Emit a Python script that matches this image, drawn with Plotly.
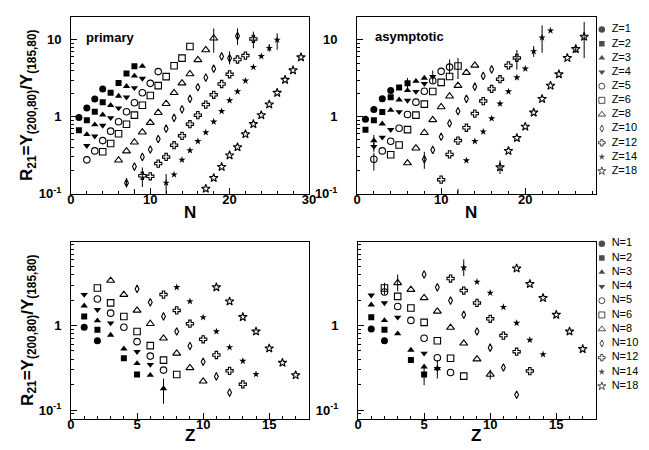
import plotly.graph_objects as go

# ---------------- data ----------------
Z_SERIES = [1, 2, 3, 4, 5, 6, 8, 10, 12, 14, 18]
N_SERIES = [1, 2, 3, 4, 5, 6, 8, 10, 12, 14, 18]

# top-left: primary, R21 vs N, one series per Z
prim_vs_N = {
    1: ([1, 2, 3, 4], [0.98, 1.30, 1.70, 2.30]),
    2: ([1, 2, 3, 4, 5, 6, 7, 8], [0.67, 0.90, 1.16, 1.55, 2.05, 2.75, 3.65, 4.55]),
    3: ([2, 3, 4, 5, 6, 7, 8, 9], [0.59, 0.79, 1.06, 1.41, 1.86, 2.49, 3.40, 4.55]),
    4: ([2, 3, 4, 5, 6, 7, 8, 9], [0.42, 0.56, 0.77, 0.97, 1.30, 1.80, 2.38, 3.15]),
    5: ([2, 3, 4, 5, 6, 7, 8, 9, 10, 11], [0.275, 0.36, 0.49, 0.65, 0.86, 1.16, 1.52, 2.05, 2.72, 3.87]),
    6: ([4, 5, 6, 7, 8, 9, 10, 11, 12, 13, 14, 15], [0.35, 0.45, 0.60, 0.80, 1.05, 1.41, 1.89, 2.54, 3.33, 4.6, 5.8, 8.2]),
    8: ([6, 7, 8, 9, 10, 11, 12, 13, 14, 15, 16, 17, 18], [0.272, 0.357, 0.466, 0.63, 0.84, 1.13, 1.48, 2.05, 2.74, 3.6, 5.5, 7.4, 10.5]),
    10: ([7, 8, 9, 10, 11, 12, 13, 14, 15, 16, 17, 18, 19, 20, 21], [0.138, 0.225, 0.30, 0.375, 0.514, 0.70, 0.97, 1.25, 1.71, 2.42, 3.24, 4.22, 6.1, 5.8, 11.2]),
    12: ([8, 9, 10, 11, 12, 13, 14, 15, 16, 17, 18, 19, 20, 21, 22, 23], [0.08, 0.171, 0.168, 0.246, 0.30, 0.427, 0.565, 0.80, 1.05, 1.44, 1.93, 2.67, 3.57, 5.56, 6.25, 10.3]),
    14: ([12, 13, 14, 15, 16, 17, 18, 19, 20, 21, 22, 23, 24, 25, 26], [0.138, 0.177, 0.275, 0.365, 0.48, 0.625, 0.863, 1.18, 1.63, 2.13, 2.94, 4.43, 6.12, 7.83, 10.0]),
    18: ([17, 18, 19, 20, 21, 22, 23, 24, 25, 26, 27, 28, 29], [0.116, 0.160, 0.223, 0.315, 0.402, 0.594, 0.805, 1.05, 1.45, 2.05, 3.03, 4.02, 5.94]),
}
prim_vs_N_err = {  # (Z, N): (low, high)
    (8, 18): (6.8, 14.1), (10, 7): (0.12, 0.16), (10, 20): (4.8, 7.1), (10, 21): (8.6, 14.1),
    (12, 8): (0.06, 0.115), (12, 9): (0.122, 0.219), (12, 23): (7.8, 12.8),
    (14, 12): (0.10, 0.18), (14, 25): (7.0, 8.8), (14, 26): (7.45, 12.2),
}

# top-right: asymptotic, R21 vs N, one series per Z
asym_vs_N = {
    1: ([1, 2, 3, 4], [0.93, 1.24, 1.72, 2.2]),
    2: ([1, 2, 3, 4, 5, 6], [0.68, 0.90, 1.15, 1.80, 2.4, 2.72]),
    3: ([2, 3, 4, 5, 6, 7, 8], [0.49, 0.81, 1.22, 1.66, 2.2, 2.9, 3.19]),
    4: ([2, 3, 4, 5, 6, 7, 8, 9], [0.41, 0.54, 0.68, 1.16, 1.63, 2.13, 2.70, 3.34]),
    5: ([2, 3, 4, 5, 6, 7, 8, 9, 10, 11], [0.28, 0.36, 0.48, 0.71, 1.07, 1.55, 2.15, 2.94, 3.9, 4.43]),
    6: ([4, 5, 6, 7, 8, 9, 10, 11, 12], [0.32, 0.43, 0.68, 1.05, 1.46, 2.13, 2.80, 3.34, 4.57]),
    8: ([6, 7, 8, 9, 10, 11, 12, 13, 14], [0.25, 0.39, 0.62, 0.91, 1.34, 1.85, 2.54, 3.75, 4.66]),
    10: ([8, 9, 10, 11, 12, 13, 14, 15, 16], [0.28, 0.37, 0.55, 0.82, 1.18, 1.71, 2.46, 3.40, 4.14]),
    12: ([10, 11, 12, 13, 14, 15, 16, 17, 18, 19], [0.152, 0.324, 0.49, 0.72, 1.10, 1.60, 2.30, 3.08, 4.66, 5.83]),
    14: ([12, 13, 14, 15, 16, 17, 18, 19, 20, 21, 22, 23], [0.08, 0.27, 0.48, 0.64, 0.95, 1.48, 2.13, 3.24, 4.22, 7.1, 10.7, 13.2]),
    18: ([17, 18, 19, 20, 21, 22, 23, 24, 25, 26, 27], [0.22, 0.36, 0.53, 0.745, 1.135, 1.71, 2.54, 3.57, 5.83, 7.6, 11.0]),
}
asym_vs_N_err = {
    (2, 6): (2.3, 3.2), (3, 2): (0.40, 0.58), (4, 2): (0.35, 0.46), (4, 9): (2.7, 4.0),
    (5, 2): (0.20, 0.34), (5, 11): (3.57, 5.56), (6, 12): (3.1, 5.8), (10, 8): (0.21, 0.35),
    (12, 19): (4.1, 7.4), (14, 12): (0.06, 0.115), (14, 21): (6.0, 8.3), (14, 22): (6.8, 15.5),
    (18, 17): (0.18, 0.27), (18, 26): (6.8, 8.6), (18, 27): (5.8, 17.1),
}

# bottom-left: primary, R21 vs Z, one series per N
prim_vs_Z = {
    1: ([1, 2], [0.955, 0.66]),
    2: ([1, 2, 4, 5], [1.28, 0.89, 0.41, 0.264]),
    3: ([1, 2, 3, 4, 5, 6, 7], [1.71, 1.14, 0.77, 0.53, 0.356, 0.259, 0.18]),
    4: ([1, 2, 3, 5, 6], [2.32, 1.54, 1.07, 0.49, 0.346]),
    5: ([2, 3, 4, 5, 6, 7], [2.06, 1.40, 0.955, 0.645, 0.435, 0.297]),
    6: ([2, 3, 4, 5, 6, 7, 8], [2.78, 1.85, 1.28, 0.85, 0.578, 0.39, 0.264]),
    8: ([3, 4, 5, 6, 7, 8, 9, 10], [3.40, 2.32, 1.51, 1.05, 0.706, 0.469, 0.316, 0.219]),
    10: ([5, 6, 7, 8, 9, 10, 11, 12], [2.71, 1.88, 1.28, 0.85, 0.573, 0.373, 0.25, 0.161]),
    12: ([7, 8, 9, 10, 11, 12, 13], [2.32, 1.51, 1.05, 0.687, 0.448, 0.291, 0.202]),
    14: ([8, 9, 10, 11, 12, 13, 14], [2.83, 1.93, 1.25, 0.85, 0.552, 0.38, 0.266]),
    18: ([11, 12, 13, 14, 15, 16, 17], [2.83, 1.93, 1.26, 0.85, 0.537, 0.363, 0.259]),
}
prim_vs_Z_err = {(3, 7): (0.119, 0.236)}

# bottom-right: asymptotic, R21 vs Z, one series per N
asym_vs_Z = {
    1: ([1, 2], [0.91, 0.66]),
    2: ([1, 2, 4, 5], [1.25, 0.89, 0.39, 0.264]),
    3: ([1, 2, 3, 4, 5, 6], [1.76, 1.15, 0.80, 0.513, 0.325, 0.31]),
    4: ([1, 2, 3, 5, 6], [2.28, 1.85, 1.25, 0.469, 0.31]),
    5: ([2, 3, 4, 5, 6, 7], [2.49, 1.68, 1.15, 0.706, 0.416, 0.278]),
    6: ([2, 3, 4, 5, 6, 7, 8], [2.78, 2.21, 1.61, 1.09, 0.66, 0.41, 0.252]),
    8: ([3, 4, 5, 6, 7, 8, 9, 10], [3.19, 2.66, 2.12, 1.47, 0.946, 0.616, 0.401, 0.264]),
    10: ([5, 6, 7, 8, 9, 10, 11, 12], [4.01, 2.83, 1.97, 1.34, 0.85, 0.547, 0.319, 0.152]),
    12: ([7, 8, 9, 10, 11, 12, 13], [3.59, 2.59, 1.85, 1.20, 0.76, 0.49, 0.289]),
    14: ([8, 9, 10, 11, 12, 13, 14], [4.81, 3.28, 2.43, 1.65, 1.07, 0.675, 0.456]),
    18: ([12, 13, 14, 15, 16, 17], [4.73, 3.10, 2.12, 1.34, 0.85, 0.527]),
}
asym_vs_Z_err = {
    (2, 5): (0.197, 0.34), (4, 6): (0.236, 0.39), (6, 2): (2.32, 3.19), (8, 3): (2.54, 4.0),
    (8, 10): (0.23, 0.30), (14, 8): (3.83, 6.05),
}

# ---------------- styles ----------------
SYMB = ["circle", "square", "triangle-up", "triangle-down", "circle-open", "square-open",
        "triangle-up-open", "diamond-tall-open", "cross-open", "star", "star-open"]
SIZE = [7, 6, 6.5, 6.5, 6.5, 6.5, 7, 5.5, 6, 5.5, 6.5]
FONT = "Liberation Sans, Arial, Helvetica, sans-serif"

fig = go.Figure()


def add_panel(data, errs, xa, ya, keys):
    for i, k in enumerate(keys):
        xs, ys = data[k]
        plus, minus = [], []
        has_err = False
        for x, y in zip(xs, ys):
            if (k, x) in errs:
                lo, hi = errs[(k, x)]
                plus.append(hi - y)
                minus.append(y - lo)
                has_err = True
            else:
                plus.append(0)
                minus.append(0)
        open_m = SYMB[i].endswith("open")
        fig.add_trace(go.Scatter(
            x=xs, y=ys, mode="markers", xaxis=xa, yaxis=ya, showlegend=False,
            marker=dict(symbol=SYMB[i], size=SIZE[i], color="black",
                        line=dict(color="black", width=1.1 if open_m else 0)),
            error_y=dict(type="data", array=plus, arrayminus=minus, symmetric=False,
                         visible=has_err, color="black", thickness=1, width=0),
            cliponaxis=True,
        ))


add_panel(prim_vs_N, prim_vs_N_err, "x", "y", Z_SERIES)
add_panel(asym_vs_N, asym_vs_N_err, "x2", "y2", Z_SERIES)
add_panel(prim_vs_Z, prim_vs_Z_err, "x3", "y3", N_SERIES)
add_panel(asym_vs_Z, asym_vs_Z_err, "x4", "y4", N_SERIES)

# legends drawn as marker columns with labels
z_labels = [f"Z={z}" for z in Z_SERIES]
n_labels = [f"N={n}" for n in N_SERIES]
for labels, xa, ya in [(z_labels, "x5", "y5"), (n_labels, "x6", "y6")]:
    fig.add_trace(go.Scatter(
        x=[6] * len(labels), y=labels, mode="markers", xaxis=xa, yaxis=ya, showlegend=False,
        marker=dict(symbol=SYMB, size=[s - 0.5 for s in SIZE], color="black",
                    line=dict(color="black", width=[1.0 if s.endswith("open") else 0 for s in SYMB])),
        cliponaxis=False,
    ))
    fig.add_trace(go.Scatter(
        x=[16] * len(labels), y=labels, mode="text", text=labels, textposition="middle right",
        textfont=dict(family=FONT, size=11, color="black"),
        xaxis=xa, yaxis=ya, showlegend=False, cliponaxis=False,
    ))

W, H = 649, 450


def xd(a, b):
    return [a / W, b / W]


def yd(top, bottom):
    return [1 - bottom / H, 1 - top / H]


tickfont = dict(family=FONT, size=13, color="black", weight="bold")
common_ax = dict(showline=True, linecolor="black", linewidth=1, mirror=True, ticks="inside",
                 tickcolor="black", ticklen=6, tickwidth=1, showgrid=False, zeroline=False,
                 tickfont=tickfont)

log_minor_top = [m * 10 ** e for e in (-1, 0, 1) for m in range(2, 10)]
log_minor_bot = [m * 10 ** e for e in (-2, -1, 0) for m in range(2, 10)]
xstand = -6

layout = dict(
    width=W, height=H, margin=dict(l=0, r=0, t=0, b=0),
    paper_bgcolor="white", plot_bgcolor="white", showlegend=False,
    xaxis=dict(common_ax, domain=xd(60, 302), range=[0, 30], tickvals=[0, 10, 20, 30], anchor="y",
               ticklabelstandoff=xstand,
               minor=dict(tickvals=[v for v in range(2, 30, 2) if v % 10], ticks="inside", ticklen=3, tickcolor="black")),
    yaxis=dict(common_ax, domain=yd(9, 189), type="log", range=[-1.0, 1.3], tickvals=[0.1, 1, 10],
               ticktext=["10<sup>-1</sup>", "1", "10"], anchor="x", ticklabelstandoff=6,
               minor=dict(tickvals=log_minor_top, ticks="inside", ticklen=3, tickcolor="black")),
    xaxis2=dict(common_ax, domain=xd(351, 594), range=[0, 28.4], tickvals=[0, 10, 20], anchor="y2",
                ticklabelstandoff=xstand,
                minor=dict(tickvals=[v for v in range(2, 29, 2) if v % 10], ticks="inside", ticklen=3, tickcolor="black")),
    yaxis2=dict(common_ax, domain=yd(9, 189), type="log", range=[-1.0, 1.3], tickvals=[0.1, 1, 10],
                ticktext=["10<sup>-1</sup>", "1", "10"], anchor="x2", ticklabelstandoff=16,
                minor=dict(tickvals=log_minor_top, ticks="inside", ticklen=3, tickcolor="black")),
    xaxis3=dict(common_ax, domain=xd(60, 302), range=[0, 18], tickvals=[0, 5, 10, 15], anchor="y3",
                ticklabelstandoff=xstand,
                minor=dict(tickvals=[v for v in range(1, 18) if v % 5], ticks="inside", ticklen=3, tickcolor="black")),
    yaxis3=dict(common_ax, domain=yd(238, 418), type="log", range=[-1.1, 0.99], tickvals=[0.1, 1],
                ticktext=["10<sup>-1</sup>", "1"], anchor="x3", ticklabelstandoff=6,
                minor=dict(tickvals=log_minor_bot + [20, 30], ticks="inside", ticklen=3, tickcolor="black")),
    xaxis4=dict(common_ax, domain=xd(352, 594), range=[0, 18], tickvals=[0, 5, 10, 15], anchor="y4",
                ticklabelstandoff=xstand,
                minor=dict(tickvals=[v for v in range(1, 18) if v % 5], ticks="inside", ticklen=3, tickcolor="black")),
    yaxis4=dict(common_ax, domain=yd(238, 418), type="log", range=[-1.1, 0.99], tickvals=[0.1, 1],
                ticktext=["10<sup>-1</sup>", "1"], anchor="x4", ticklabelstandoff=16,
                minor=dict(tickvals=log_minor_bot + [20, 30], ticks="inside", ticklen=3, tickcolor="black")),
    xaxis5=dict(domain=xd(594, 649), range=[0, 55], visible=False, anchor="y5", fixedrange=True),
    yaxis5=dict(domain=yd(22 - 7.2, 166 + 7.2), range=[10.5, -0.5], visible=False, anchor="x5",
                type="category", categoryorder="array", categoryarray=z_labels),
    xaxis6=dict(domain=xd(594, 649), range=[0, 55], visible=False, anchor="y6", fixedrange=True),
    yaxis6=dict(domain=yd(240 - 7.25, 385 + 7.25), range=[10.5, -0.5], visible=False, anchor="x6",
                type="category", categoryorder="array", categoryarray=n_labels),
)
fig.update_layout(**layout)

ytitle = "R<sub>21</sub>=Y<sub>(200,80)</sub>/Y<sub>(185,80)</sub>"
bold = dict(family=FONT, color="black", weight="bold")
annos = [
    dict(text="primary", x=100 / W, y=1 - 30 / H, font=dict(bold, size=13)),
    dict(text="asymptotic", x=404 / W, y=1 - 29 / H, font=dict(bold, size=13)),
    dict(text="N", x=181 / W, y=1 - 208 / H, font=dict(bold, size=17)),
    dict(text="N", x=467 / W, y=1 - 208 / H, font=dict(bold, size=17)),
    dict(text="Z", x=181 / W, y=1 - 435 / H, font=dict(bold, size=17)),
    dict(text="Z", x=472 / W, y=1 - 435 / H, font=dict(bold, size=17)),
    dict(text=ytitle, x=17 / W, y=1 - 99 / H, textangle=-90, font=dict(bold, size=17)),
    dict(text=ytitle, x=17 / W, y=1 - 328 / H, textangle=-90, font=dict(bold, size=17)),
]
for a in annos:
    fig.add_annotation(xref="paper", yref="paper", showarrow=False, xanchor="center",
                       yanchor="middle", **a)

fig.write_html("out.html")
